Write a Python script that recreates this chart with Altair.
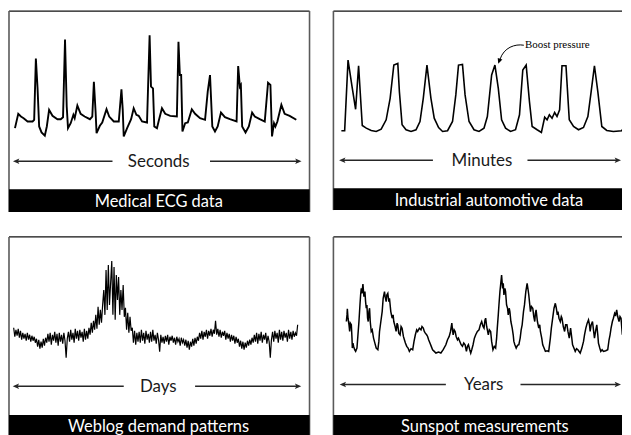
import altair as alt
import pandas as pd

# ---------------- data ----------------
# Medical ECG (time in samples, amplitude in arbitrary units)
ecg_t = [0, 3.3, 6, 8.7, 12.7, 17.7, 19.3, 21, 22.7, 24.3, 26.7, 30, 32, 34.3, 37.7, 42.7, 46, 48.3,
         50.3, 52, 53.3, 56, 58.7, 60, 62.7, 66, 70, 75.3, 77.7, 79.3, 81, 82, 85.3, 87.7, 92, 94.7,
         99.3, 104.3, 107, 108.3, 109.3, 112.7, 116.7, 119.3, 122, 124.3, 127.7, 132.7, 135.3, 136.7,
         138.7, 140, 142.7, 144.3, 147.7, 151, 156, 162.7, 164.3, 165.7, 167, 168.3, 171, 173.7, 177.7,
         181, 186, 191, 193.7, 196, 198.3, 201, 203.7, 207, 211, 216, 222.7, 224.3, 226, 227, 228.3,
         231.7, 235, 238.3, 241, 246, 251, 254.3, 256.7, 258.3, 260.3, 261.7, 263.7, 267.7, 271, 276, 282.7]
ecg_mv = [-6.7, 7.7, 5, 3.3, 0, 0, 1.7, 63.3, 33.3, -5, -11, -14.3, -5, 11.7, 5.7, 2.3, 2.3, 4.3,
          82.3, 15, -6.7, -1.7, 6.7, 3.3, 16, 7.7, 5, 2.3, 5, 40, 10, -11.7, -4.3, -1, 12.3, 5,
          0, 0, 32.3, 11.7, -15, -6.7, 2.3, 13.3, 6.7, 5.7, 0, -1, 86.7, 35,
          33.3, -5, -6.7, 0, 13.3, 7.7, 5.7, 5, 80, 46.7, 46.7, -10, -1.7, -1, 12.3,
          7.7, 3.3, 1.7, 30, 46.7, -5, -10, -5, 9, 4.3, 2.3, 0, 55.7, 35, 36.7, -5,
          -11, -5, 9, 5, 2.3, 0, 39, 36.7, -15, -1.7, -5, 0, 16.7, 7.7, 5.7, 1.7]

# Industrial automotive: boost pressure over minutes
boost_t = [0, 3.3, 6.7, 11, 14.3, 17.3, 21, 25, 30, 35, 40, 45, 49, 52.7, 56.7, 58.3, 61, 65, 70, 75,
           79, 82.3, 86, 90, 93.3, 97.7, 101.7, 106.7, 111.7, 115, 117.7, 121.7, 124.3, 128.3, 133.3,
           138.3, 143.3, 146.7, 151, 154.3, 157.7, 161, 165, 170, 175, 179, 182.3, 185.7, 189, 191.7,
           196.7, 201, 204.3, 206.7, 209, 211.7, 214.3, 216.7, 219.3, 221.7, 225.7, 229, 233.3, 238.3,
           243.3, 247.7, 251, 254.3, 257.7, 261.7, 266.7, 273.3, 281.7, 286.7]
boost_v = [0.7, 0.7, 71.7, 43.3, 22.3, 66, 6, 3.3, 1, 0, 2.3, 11.7, 33.3, 66.7, 68.3, 40, 6.7, 1.7, 0, 1.7,
           10, 33.3, 66.7, 33.3, 13.3, 4, 0, 0.7, 10, 36.7, 66.7, 67.3, 36.7, 10, 1.7,
           0, 3.3, 15, 56.7, 66.7, 43.3, 11.7, 3.3, 0, 1.7, 16.7, 61.7, 66.7, 30, 5,
           1.7, -1, 14.3, 11.7, 16.7, 13.3, 19, 15, 21.7, 66, 66, 11.7, 5, 1.7,
           4, 15, 40, 66, 40, 5, 1, 0, 0.7, 8.3]

# Weblog demand, one value per day
web_demand = [17, 8, 15, 9, 16, 7,
              14, 5, 12, 6, 11, 4, 12, 5, 10, 3, 9, 4, 8, 2,
              6, -2, 5, -4, 3, -3, 6, -1, 7,
              2, 11, 3, 12, 0, 10, 4, 13, 2, 11, -1, 12, 3, 10, 1, 12, 4,
              -13,
              6, 13, 3, 15, 5, 12, 2, 16, 6, 14, 4, 15, 7, 13, 3, 16, 5, 14, 6, 17,
              10, 22, 12, 24, 15,
              30, 16, 38, 20, 35, 22, 40,
              55, 30, 75, 35, 80, 40, 62,
              84, 30, 78, 25, 70, 45,
              68, 30, 55, 35, 60, 28,
              37, 15, 32, 12, 28, 14,
              17, 2, 14, 0, 12, 3,
              13, 2, 15, 4, 12, 1, 14, 5, 11, 2, 13, 3, 15, 4, 10, 1, 12, 5,
              -7,
              10, 2, 8, 1, 9, 3, 10, 0, 8, 4, 9, 2, 7, 0, 8, 3, 6, -1, 7, 2, 5,
              -1, 5, -3, 4, -5, 3, -2, 6, -1, 7, 1, 8,
              4, 12, 6, 14, 5, 13, 8, 15, 6, 14, 9, 16, 8, 15, 11,
              24,
              10, 16, 8, 15, 7, 13, 9, 14, 5, 12, 6, 11, 3, 10, 4, 9, 1, 8, 2, 6,
              -2, 4, -4, 3, -5, 2, -3, 4, -1, 5, 0, 7,
              2, 10, 3, 12, 1, 11, 4, 13, 2, 10, 5, 12, 1, 9, 3,
              -13,
              5, 13, 3, 14, 6, 12, 2, 15, 5, 13, 4, 14, 7, 12, 3, 15, 6, 13, 5, 14, 8, 12, 9, 20]

# Sunspot measurements
sun_t = [90, 92, 93, 95, 98, 100, 102, 105, 107, 108, 110, 112, 115, 118, 122,
         125, 128, 131, 133, 135, 137, 140, 143, 146, 148, 150, 152, 154, 156, 158, 160, 162, 165, 168,
         172, 176, 180, 185,
         188, 190, 194, 198, 201, 205, 207, 210, 212, 215, 218, 220, 224, 228, 231, 233, 237, 240, 243,
         245, 248, 252, 255, 258, 262, 265, 268, 272, 276, 280, 285, 290,
         294, 298, 302, 305, 310, 315, 318, 322, 325, 328, 332, 335, 338, 342, 346, 350, 355, 360, 368, 375,
         382, 390, 395, 400, 404, 408, 410, 412, 415, 418, 421, 425, 428, 432, 436, 440, 444, 448, 452,
         455, 458, 462, 465,
         468, 472, 476, 480, 485, 490, 494, 498, 502, 505, 508, 510, 513, 518, 521, 525, 528, 532, 536, 540,
         543, 545, 548, 550, 553, 555, 558, 561, 563, 565, 568, 570, 573, 576, 578, 581, 583, 586, 590,
         593, 595, 598, 602, 606, 610,
         614, 617, 620, 624, 627, 631, 635, 638, 640, 643, 645, 648, 652, 655, 658, 660, 662, 666, 670,
         673, 675, 679, 682, 686, 690, 695, 700,
         705, 708, 712, 716, 720, 723, 726, 728, 731, 735, 738, 740, 744, 748, 751, 755, 758, 762, 764,
         766, 769, 772, 776, 780, 784, 788, 795,
         800, 805, 808, 812, 816, 820, 823, 825, 828, 832, 835, 838, 842, 845, 848, 850, 854, 857, 861,
         865, 872, 878,
         882, 885, 888, 892, 895, 899, 902, 905, 908, 912, 915, 918, 920, 922, 925, 928, 930, 932, 934, 935]
sun_v = [100, 120, 138, 110, 90, 70, 95, 90, 50, 20, 35, 25, 15, 10, 20,
         60, 100, 150, 180, 200, 185, 213, 175, 190, 160, 140, 150, 110, 100, 130, 140, 100, 70, 75,
         50, 35, 20, 15,
         40, 70, 100, 130, 170, 190, 175, 160, 180, 185, 160, 170, 130, 110, 120, 100, 85, 70, 95,
         90, 65, 60, 85, 80, 55, 45, 35, 25, 20, 10, 18, 15,
         40, 60, 75, 70, 80, 75, 85, 80, 70, 65, 60, 55, 45, 35, 25, 15, 10, 5, 8, 5,
         15, 30, 45, 55, 70, 95, 75, 60, 75, 70, 55, 45, 50, 40, 30, 25, 35, 30, 10,
         25, 30, 15, 5,
         15, 30, 50, 60, 70, 75, 90, 100, 85, 80, 105, 110, 85, 60, 75, 70, 40, 15, 25, 20,
         50, 80, 120, 150, 190, 210, 240, 200, 215, 180, 200, 190, 150, 140, 120, 140, 130, 100, 80,
         60, 40, 30, 20, 28, 30,
         50, 75, 90, 130, 150, 190, 215, 195, 180, 150, 130, 145, 140, 115, 100, 125, 135, 100, 80,
         90, 70, 50, 30, 20, 10, 12, 10,
         50, 80, 110, 140, 155, 140, 120, 130, 110, 100, 115, 110, 85, 70, 90, 90, 70, 50, 65,
         80, 55, 30, 20, 10, 18, 15, 5,
         20, 40, 60, 80, 95, 105, 90, 70, 90, 100, 75, 50, 75, 90, 60, 35, 20, 10, 15,
         10, 12, 15,
         45, 60, 80, 100, 110, 125, 120, 135, 115, 100, 115, 110, 85, 60, 75, 80, 50, 20, 45, 50]

FONT = "Lato"
ARROW_COL = "#262626"
LEFT_HEAD = "M-1,0L0.6,-0.7L0.25,0L0.6,0.7Z"
RIGHT_HEAD = "M1,0L-0.6,-0.7L-0.25,0L-0.6,0.7Z"


def decorations(W, H, bar_top, y_arrow, xl, xl_end, xr_start, xr, word, word_x, word_y,
                label, label_x, label_y, right_border):
    base = alt.Chart(alt.Data(values=[{}]))
    layers = []
    # frame
    layers.append(base.mark_rule(color="#111", strokeWidth=1.2).encode(
        x=alt.value(0), x2=alt.value(W), y=alt.value(0)))
    layers.append(base.mark_rule(color="#5a5a5a", strokeWidth=1.6).encode(
        x=alt.value(0), y=alt.value(0), y2=alt.value(H)))
    if right_border:
        layers.append(base.mark_rule(color="#5a5a5a", strokeWidth=1.6).encode(
            x=alt.value(W), y=alt.value(0), y2=alt.value(H)))
    # black caption bar
    layers.append(base.mark_rect(color="black").encode(
        x=alt.value(0), x2=alt.value(W), y=alt.value(bar_top), y2=alt.value(H)))
    layers.append(base.mark_text(font=FONT, fontSize=16.5, color="white", align="center",
                                 baseline="alphabetic").encode(
        x=alt.value(label_x), y=alt.value(label_y), text=alt.value(label)))
    # double arrow with word
    layers.append(base.mark_rule(color=ARROW_COL, strokeWidth=1.5).encode(
        x=alt.value(xl + 3), x2=alt.value(xl_end), y=alt.value(y_arrow)))
    layers.append(base.mark_rule(color=ARROW_COL, strokeWidth=1.5).encode(
        x=alt.value(xr_start), x2=alt.value(xr - 3), y=alt.value(y_arrow)))
    layers.append(base.mark_point(shape=LEFT_HEAD, size=64, filled=True, color=ARROW_COL,
                                  opacity=1).encode(x=alt.value(xl + 4), y=alt.value(y_arrow)))
    layers.append(base.mark_point(shape=RIGHT_HEAD, size=64, filled=True, color=ARROW_COL,
                                  opacity=1).encode(x=alt.value(xr - 4), y=alt.value(y_arrow)))
    layers.append(base.mark_text(font=FONT, fontSize=17, color="#1a1a1a", align="center",
                                 baseline="alphabetic").encode(
        x=alt.value(word_x), y=alt.value(word_y), text=alt.value(word)))
    return layers


def series(df, xcol, ycol, xdom, ydom, width):
    return alt.Chart(df).mark_line(color="black", strokeWidth=width, clip=True).encode(
        x=alt.X(f"{xcol}:Q", scale=alt.Scale(domain=xdom, nice=False, zero=False), axis=None),
        y=alt.Y(f"{ycol}:Q", scale=alt.Scale(domain=ydom, nice=False, zero=False), axis=None),
        order=alt.Order("idx:Q"),
    )


# ---------- panel 1: ECG ----------
W1, H1 = 302, 202
ecg_df = pd.DataFrame({"t": ecg_t, "mv": ecg_mv})
ecg_df["idx"] = range(len(ecg_df))
p1 = alt.layer(
    series(ecg_df, "t", "mv", [-6, 296], [-91, 111], 1.9),
    *decorations(W1, H1, 179, 151, 4, 104, 202, 294, "Seconds", 150.5, 157,
                 "Medical ECG data", 150.5, 197, True),
).properties(width=W1, height=H1)

# ---------- panel 2: automotive ----------
W2, H2 = 290, 200
boost_df = pd.DataFrame({"t": boost_t, "v": boost_v})
boost_df["idx"] = range(len(boost_df))
ann = alt.Chart(alt.Data(values=[{}]))
p2 = alt.layer(
    series(boost_df, "t", "v", [-8, 282], [-79, 121], 1.6),
    *decorations(W2, H2, 178, 150, 5.7, 100, 195, 289, "Minutes", 149.3, 156,
                 "Industrial automotive data", 156.3, 196, False),
    ann.mark_text(font="Liberation Serif", fontSize=11, color="black", align="left",
                  baseline="alphabetic").encode(
        x=alt.value(192.5), y=alt.value(37.5), text=alt.value("Boost pressure")),
    ann.mark_point(shape="M0.99,-0.68C0.3,-0.8 -0.55,-0.5 -0.85,0.4", size=676, filled=False,
                   color="black", strokeWidth=1, opacity=1).encode(
        x=alt.value(178.5), y=alt.value(43.2)),
    ann.mark_point(shape="M-0.99,0.75L-1.03,0.3L-0.67,0.42Z", size=676, filled=True,
                   color="black", opacity=1).encode(
        x=alt.value(178.5), y=alt.value(43.2)),
).properties(width=W2, height=H2)

# ---------- panel 3: weblog ----------
W3, H3 = 302, 200
web_df = pd.DataFrame({"day": list(range(len(web_demand))), "demand": web_demand})
web_df["idx"] = web_df["day"]
p3 = alt.layer(
    series(web_df, "day", "demand", [-4.1, 259.4], [-91.7, 108.3], 1.2),
    *decorations(W3, H3, 179, 150, 3.7, 115.3, 187, 293.7, "Days", 150, 156,
                 "Weblog demand patterns", 150.3, 196, True),
).properties(width=W3, height=H3)

# ---------- panel 4: sunspots ----------
W4, H4 = 290, 200
sun_df = pd.DataFrame({"t": sun_t, "spots": sun_v})
sun_df["idx"] = range(len(sun_df))
p4 = alt.layer(
    series(sun_df, "t", "spots", [51, 921], [-245, 355], 1.5),
    *decorations(W4, H4, 179, 148.3, 6.3, 113, 188, 289, "Years", 151, 154,
                 "Sunspot measurements", 152.2, 196, False),
).properties(width=W4, height=H4)

chart = alt.vconcat(
    alt.hconcat(p1, p2, spacing=22),
    alt.hconcat(p3, p4, spacing=22),
    spacing=23,
).properties(
    padding={"left": 0, "top": 1, "right": 0, "bottom": 0},
).configure_view(stroke=None)

chart.save("out.html", embed_options={"renderer": "svg", "actions": False})
